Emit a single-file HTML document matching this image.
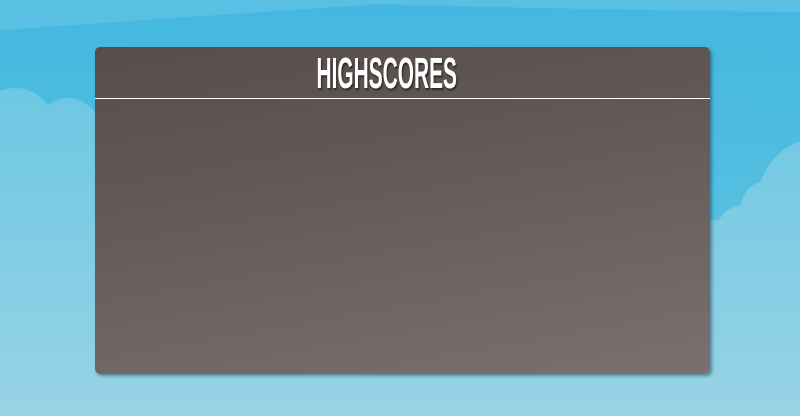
<!DOCTYPE html>
<html><head><meta charset="utf-8"><style>
html,body{margin:0;padding:0;width:800px;height:416px;overflow:hidden}
body{background:linear-gradient(#43b8e0,#50bde1 40%,#62c3e2 70%,#62c3e2);position:relative;font-family:"Liberation Sans",sans-serif}
svg.bg{position:absolute;left:0;top:0}
.panel{position:absolute;left:95px;top:47px;width:615px;height:327px;border-radius:5px;background:linear-gradient(170deg,#574d4b,#615856 35%,#7a706f);box-shadow:2px 2px 3px rgba(20,60,80,.5)}
.title{position:absolute;left:0;top:0;width:100%;height:51px;border-bottom:1px solid #fff;text-align:center}
.title span{display:inline-block;position:relative;left:-16px;top:8px;font-weight:bold;font-size:38px;line-height:38px;color:#fff;transform:scale(.55,1.15);transform-origin:center;text-shadow:2px 2px 2px rgba(0,0,0,.5)}
</style></head><body>
<svg class="bg" width="800" height="416">
<defs><linearGradient id="cg" gradientUnits="userSpaceOnUse" x1="0" y1="88" x2="0" y2="416"><stop offset="0" stop-color="#6dc7e3"/><stop offset="1" stop-color="#98d3e5"/></linearGradient></defs>
<path d="M0,30 L380,4 Q600,10 800,12 L800,0 L0,0 Z" fill="#fff" opacity="0.12"/>
<g fill="url(#cg)">
<circle cx="15" cy="128" r="40"/><circle cx="68" cy="130" r="32"/><circle cx="110" cy="160" r="50"/>
<rect x="0" y="125" width="100" height="300"/>
<circle cx="820" cy="200" r="62"/><circle cx="770" cy="210" r="30"/><circle cx="745" cy="235" r="30"/><circle cx="712" cy="250" r="30"/>
<rect x="690" y="235" width="110" height="200"/>
<rect x="0" y="300" width="800" height="116"/>
</g>
</svg>
<div class="panel">
<div class="title"><span>HIGHSCORES</span></div>
</div>
</body></html>
